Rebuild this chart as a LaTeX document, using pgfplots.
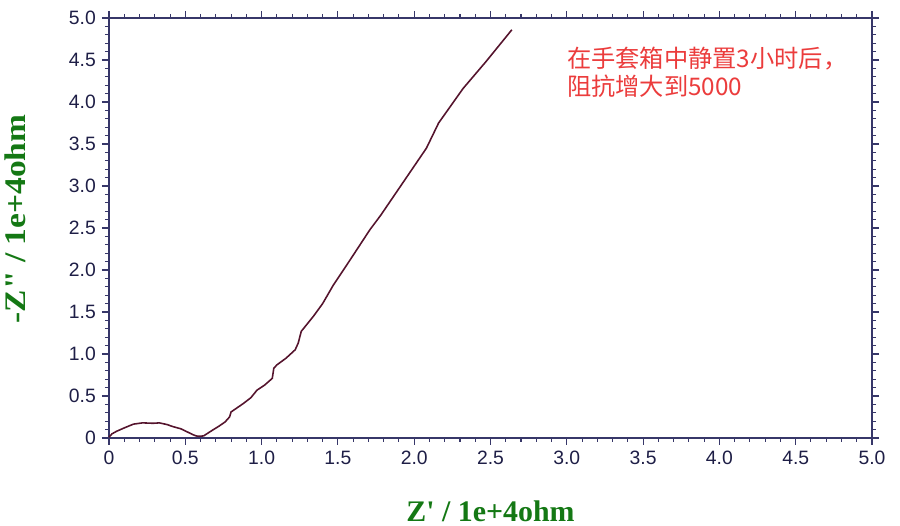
\documentclass[border=0pt]{standalone}
\usepackage{fontspec}
\setmainfont{Liberation Sans}
\newfontfamily\labelfont{Liberation Serif}
\newfontfamily\cjk{Noto Sans CJK SC}
\usepackage{pgfplots}
\pgfplotsset{compat=1.18}

\definecolor{axiscol}{RGB}{55,55,105}
\definecolor{tickcol}{RGB}{30,30,70}
\definecolor{labgreen}{RGB}{20,120,20}
\definecolor{curvecol}{RGB}{85,20,45}
\definecolor{notered}{RGB}{235,60,60}

\begin{document}
\begin{tikzpicture}
\begin{axis}[
  name=ax,
  scale only axis,
  width=15.26cm, height=8.4cm,
  xmin=0, xmax=5, ymin=0, ymax=5,
  xtick={0,0.5,...,5}, ytick={0,0.5,...,5},
  xticklabels={0,0.5,1.0,1.5,2.0,2.5,3.0,3.5,4.0,4.5,5.0},
  yticklabels={0,0.5,1.0,1.5,2.0,2.5,3.0,3.5,4.0,4.5,5.0},
  minor tick num=4,
  tick align=outside,
  major tick length=0.14cm, minor tick length=0.08cm,
  axis line style={axiscol, line width=0.8pt},
  every tick/.style={axiscol, line width=0.6pt},
  tick label style={font=\fontsize{11}{13}\selectfont, text=tickcol},
  /pgf/number format/assume math mode=true,
  xlabel={\labelfont\bfseries Z\textquotesingle{} / 1e+4ohm},
  ylabel={\labelfont\bfseries -Z" / 1e+4ohm},
  label style={font=\fontsize{17}{20}\selectfont, text=labgreen},
  xlabel style={at={(axis description cs:0.5,0)}, anchor=center, yshift=-1.47cm},
  ylabel style={at={(axis description cs:0,0.5)}, anchor=center, yshift=1.88cm,
                xshift=0.18cm, xscale=1.12},
  clip=false,
]
\addplot[curvecol, line width=0.9pt, mark=none] coordinates {
(0.00,0.01) (0.02,0.05) (0.05,0.08) (0.10,0.12) (0.16,0.165) (0.22,0.18)
(0.29,0.175) (0.33,0.18) (0.38,0.16) (0.42,0.135) (0.47,0.11) (0.51,0.075)
(0.55,0.04) (0.57,0.025) (0.59,0.02) (0.62,0.025) (0.65,0.06) (0.68,0.095)
(0.72,0.14) (0.76,0.19) (0.79,0.25) (0.80,0.31) (0.84,0.36) (0.88,0.41)
(0.93,0.48) (0.97,0.57) (1.02,0.63) (1.07,0.71) (1.08,0.83) (1.10,0.87)
(1.16,0.95) (1.22,1.05) (1.24,1.13) (1.26,1.27) (1.30,1.36) (1.34,1.45)
(1.40,1.60) (1.47,1.82) (1.58,2.12) (1.71,2.48) (1.78,2.65) (1.99,3.21)
(2.08,3.45) (2.16,3.75) (2.32,4.16) (2.47,4.48) (2.64,4.86)
};
\node[anchor=north west, align=left, inner sep=0pt, text=notered,
      font=\cjk\fontsize{13.8}{16}\selectfont]
  at (axis cs:3.0,4.66) {在手套箱中静置3小时后，\\阻抗增大到5000};
\end{axis}
\path (ax.south west) ++(-2.18cm,-1.76cm) coordinate (bl);
\path (ax.north east) ++(0.56cm,0.36cm) coordinate (tr);
\pgfresetboundingbox
\path (bl) rectangle (tr);
\end{tikzpicture}
\end{document}
